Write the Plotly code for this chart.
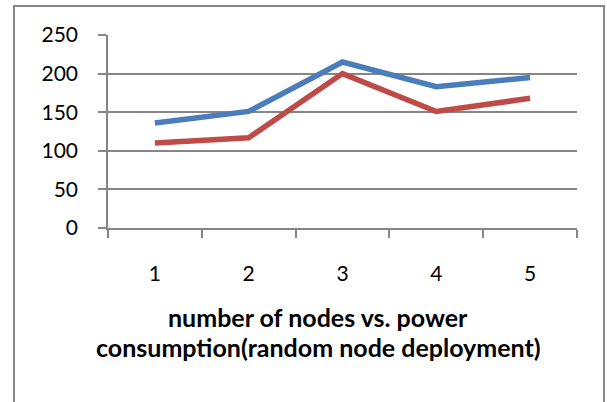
import plotly.graph_objects as go

# Number of nodes (category positions) and power consumption for two series
nodes = [1, 2, 3, 4, 5]
series_a = [136, 151, 215, 183, 195]
series_b = [110, 117, 200, 151, 168]
y_ticks = [0, 50, 100, 150, 200, 250]
title_lines = ["number of nodes vs. power", "consumption(random node deployment)"]

W, H = 607, 402
L, R, T, B = 108, 577, 35, 228  # plot area in pixels

FONT = "Lato, Carlito, Calibri, sans-serif"

fig = go.Figure()
fig.add_trace(go.Scatter(x=nodes, y=series_a, mode="lines",
                         line=dict(color="#4A7EBB", width=5.5), showlegend=False))
fig.add_trace(go.Scatter(x=nodes, y=series_b, mode="lines",
                         line=dict(color="#BE4B48", width=5.5), showlegend=False))

grid = "#868686"
fig.update_layout(
    width=W, height=H,
    margin=dict(l=L, r=W - R, t=T, b=H - B, pad=0),
    paper_bgcolor="white", plot_bgcolor="white",
    font=dict(family=FONT, size=21, color="black"),
    xaxis=dict(range=[0.5, 5.5], tickvals=nodes, ticktext=[str(n) for n in nodes],
               ticks="", showgrid=False, zeroline=False,
               showline=True, linecolor=grid, linewidth=1.5,
               ticklabelstandoff=26,
               minor=dict(tickvals=[0.5, 1.5, 2.5, 3.5, 4.5, 5.5], ticks="outside",
                          ticklen=8, tickcolor=grid, tickwidth=1.5, showgrid=False)),
    yaxis=dict(range=[0, 250], tickvals=y_ticks, ticks="outside", ticklen=8,
               tickcolor=grid, tickwidth=1.5, showgrid=True, gridcolor=grid,
               gridwidth=1.5, zeroline=False, showline=True, linecolor=grid,
               linewidth=1.5, ticklabelstandoff=16),
)

# two-line axis title below the category labels
for i, txt in enumerate(title_lines):
    fig.add_annotation(text="<b>%s</b>" % txt, xref="paper", yref="paper",
                       x=(318 - L) / (R - L), y=(B - (317 + 30 * i)) / (B - T),
                       showarrow=False, xanchor="center", yanchor="middle",
                       font=dict(family=FONT, size=25, color="black", weight=900))

# chart frame
fig.add_shape(type="rect", xref="paper", yref="paper",
              x0=(14 - L) / (R - L), x1=(604 - L) / (R - L),
              y0=(B - 410) / (B - T), y1=(B - 6) / (B - T),
              line=dict(color="#878787", width=2), fillcolor="rgba(0,0,0,0)", layer="below")

fig.write_html("out.html")
